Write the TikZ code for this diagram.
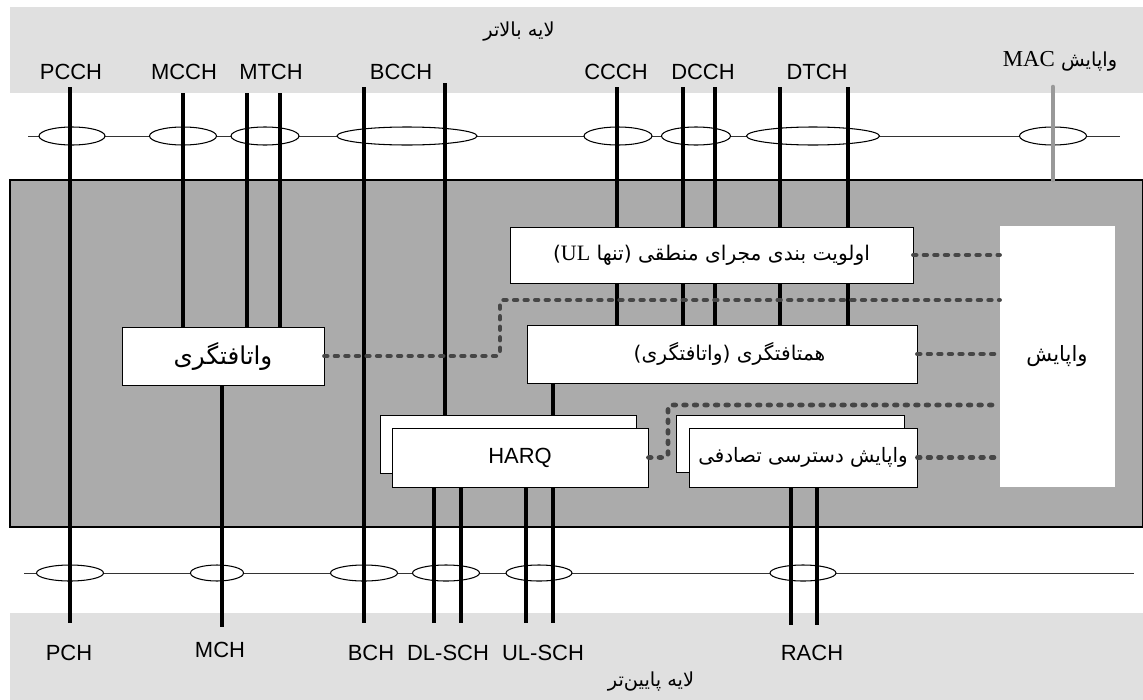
\documentclass[tikz,border=0pt]{standalone}
\usepackage{fontspec}
\setmainfont{Liberation Sans}
\newfontfamily\arabicfont[Script=Arabic]{DejaVu Sans}
\newfontfamily\latinserif{Liberation Serif}
\TeXXeTstate=1
\usetikzlibrary{shapes.geometric}
\definecolor{upperband}{HTML}{E0E0E0}
\definecolor{macband}{HTML}{ABABAB}
\definecolor{ctlgray}{HTML}{464646}
\tikzset{
  band/.style    ={fill=upperband, draw=none},
  macarea/.style ={fill=macband, draw=black, line width=0.6pt},
  bus/.style     ={draw=black!80, line width=0.5pt},
  oval/.style    ={draw, ellipse, fill=white, inner sep=0pt, line width=0.6pt, minimum height=0.36cm},
  lowoval/.style ={oval, minimum height=0.32cm},
  chan/.style    ={line width=1.8pt},
  macline/.style ={line width=2.6pt, black!40, line cap=round},
  fn/.style      ={draw, fill=white, line width=0.5pt, inner sep=0pt},
  ctl/.style     ={ctlgray, line width=2.6pt, line cap=round, dash pattern=on 1.6pt off 4.4pt, rounded corners=2pt}, % control path to the MAC control box
  chlbl/.style   ={font=\fontsize{12.5}{14}\selectfont},
  fa/.style      ={font=\arabicfont\fontsize{11}{13}\selectfont},
}

\begin{document}
\begin{tikzpicture}[x=0.02cm, y=-0.02cm]
  \useasboundingbox (0,0) rectangle (1143,700);
  % BANDS: upper layer, MAC, lower layer
  \fill[band] (10,7) rectangle (1143,93);
  \fill[band] (10,613) rectangle (1143,700);
  \draw[macarea] (10,180) rectangle (1143,527);

  \node[fa] (upper)  at (519,32)  {\beginR لایه بالاتر\endR};
  \node[fa] (lower)  at (651,682) {\beginR لایه پایین‌تر\endR};
  \node[fa] (maclbl) at (1060,61) {\beginR واپایش \beginL{\latinserif\fontsize{13}{14}\selectfont MAC}\endL\endR};

  % TOP: logical channels
  \node[chlbl] (pcch) at (71,72)  {PCCH};
  \node[chlbl] (mcch) at (184,72) {MCCH};
  \node[chlbl] (mtch) at (271,72) {MTCH};
  \node[chlbl] (bcch) at (401,72) {BCCH};
  \node[chlbl] (ccch) at (616,72) {CCCH};
  \node[chlbl] (dcch) at (703,72) {DCCH};
  \node[chlbl] (dtch) at (817,72) {DTCH};

  \coordinate (topbus-l) at (28,136);
  \coordinate (topbus-r) at (1120,136);
  \draw[bus] (topbus-l) -- (topbus-r);
  \node[oval, minimum width=1.32cm] (o-pcch) at (72,136)   {};
  \node[oval, minimum width=1.34cm] (o-mcch) at (183,136)  {};
  \node[oval, minimum width=1.36cm] (o-mtch) at (265,136)  {};
  \node[oval, minimum width=2.80cm] (o-bcch) at (407,136)  {};
  \node[oval, minimum width=1.36cm] (o-ccch) at (618,136)  {};
  \node[oval, minimum width=1.38cm] (o-dcch) at (696,136)  {};
  \node[oval, minimum width=2.66cm] (o-dtch) at (813,136)  {};
  \node[oval, minimum width=1.34cm] (o-mac)  at (1053,136) {};

  % BOTTOM: transport channels
  \node[chlbl] (pch)   at (69,653)  {PCH};
  \node[chlbl] (mch)   at (220,650) {MCH};
  \node[chlbl] (bch)   at (371,653) {BCH};
  \node[chlbl] (dlsch) at (448,653) {DL-SCH};
  \node[chlbl] (ulsch) at (543,653) {UL-SCH};
  \node[chlbl] (rach)  at (812,653) {RACH};

  \coordinate (lowbus-l) at (24,573);
  \coordinate (lowbus-r) at (1134,573);
  \draw[bus] (lowbus-l) -- (lowbus-r);
  \node[lowoval, minimum width=1.34cm] (o-pch)   at (70,573)  {};
  \node[lowoval, minimum width=1.06cm] (o-mch)   at (217,573) {};
  \node[lowoval, minimum width=1.34cm] (o-bch)   at (364,573) {};
  \node[lowoval, minimum width=1.34cm] (o-dlsch) at (446,573) {};
  \node[lowoval, minimum width=1.32cm] (o-ulsch) at (539,573) {};
  \node[lowoval, minimum width=1.32cm] (o-rach)  at (803,573) {};

  % MAC entities
  \node[fn, minimum width=4.04cm, minimum height=1.16cm] (demux) at (223,356)
    {\arabicfont\fontsize{14}{16}\selectfont\beginR واتافتگری\endR};
  \node[fn, minimum width=8.06cm, minimum height=1.12cm] (prio) at (711.5,255) {};
  \node[fn, minimum width=7.80cm, minimum height=1.16cm] (mux) at (722,354) {};
  \node[fn, minimum width=5.12cm, minimum height=1.16cm] (harq-b) at (508,444) {};
  \node[fn, minimum width=4.56cm, minimum height=1.14cm] (ra-b) at (790,443.5) {};

  % channel lines
  \coordinate (pcch-t) at (70,87);   \coordinate (pch-b) at (70,623);
  \coordinate (mcch-t) at (183,93);
  \coordinate (mtch-t1) at (247,93); \coordinate (mtch-t2) at (280,93);
  \coordinate (bcch-t1) at (364,87); \coordinate (bch-b) at (364,623);
  \coordinate (bcch-t2) at (445,83);
  \coordinate (ccch-t) at (617,87);
  \coordinate (dcch-t1) at (683,87); \coordinate (dcch-t2) at (715,87);
  \coordinate (dtch-t1) at (780,87); \coordinate (dtch-t2) at (848,87);
  \coordinate (mac-t) at (1053,87);  \coordinate (mac-b) at (1053,180);
  \draw[chan] (pcch-t) -- (pch-b);
  \draw[chan] (mcch-t) -- (mcch-t |- demux.north);
  \draw[chan] (mtch-t1) -- (mtch-t1 |- demux.north);
  \draw[chan] (mtch-t2) -- (mtch-t2 |- demux.north);
  \draw[chan] (bcch-t1) -- (bch-b);
  \draw[chan] (bcch-t2) -- (bcch-t2 |- harq-b.north);
  \draw[chan] (ccch-t) -- (ccch-t |- mux.north);
  \draw[chan] (dcch-t1) -- (dcch-t1 |- mux.north);
  \draw[chan] (dcch-t2) -- (dcch-t2 |- mux.north);
  \draw[chan] (dtch-t1) -- (dtch-t1 |- mux.north);
  \draw[chan] (dtch-t2) -- (dtch-t2 |- mux.north);
  \draw[macline] (mac-t) -- (mac-b);

  \coordinate (mch-b) at (222,627);
  \coordinate (dl-b1) at (434,623);  \coordinate (dl-b2) at (461,623);
  \coordinate (ul-b1) at (526,623);  \coordinate (ul-b2) at (553,623);
  \coordinate (rach-b1) at (791,625); \coordinate (rach-b2) at (817,625);
  \draw[chan] (demux.south -| mch-b) -- (mch-b);
  \draw[chan] (mux.south -| ul-b2) -- (ul-b2 |- harq-b.north);

  % front boxes over the lines
  \node[fn, minimum width=8.06cm, minimum height=1.12cm] (prio) at (711.5,255)
    {\arabicfont\fontsize{11.5}{13}\selectfont\beginR اولویت بندی مجرای منطقی (تنها \beginL{\latinserif\fontsize{12.5}{13}\selectfont UL}\endL)\endR};
  \node[fn, minimum width=7.80cm, minimum height=1.16cm] (mux) at (722,354)
    {\hspace*{0.3cm}\arabicfont\fontsize{11.5}{13}\selectfont\beginR همتافتگری (واتافتگری)\endR};
  \node[fn, minimum width=5.12cm, minimum height=1.18cm] (harq) at (520,457.5)
    {\fontsize{12.5}{14}\selectfont HARQ};
  \node[fn, minimum width=4.56cm, minimum height=1.18cm] (ra) at (803,457.5)
    {\arabicfont\fontsize{11.3}{14}\selectfont\beginR واپایش دسترسی تصادفی\endR};
  \node[fn, draw=white, minimum width=2.28cm, minimum height=5.2cm] (ctrl) at (1057,356)
    {\arabicfont\fontsize{12}{14}\selectfont\beginR واپایش\endR};

  \draw[chan] (harq.south -| dl-b1) -- (dl-b1);
  \draw[chan] (harq.south -| dl-b2) -- (dl-b2);
  \draw[chan] (harq.south -| ul-b1) -- (ul-b1);
  \draw[chan] (harq.south -| ul-b2) -- (ul-b2);
  \draw[chan] (ra.south -| rach-b1) -- (rach-b1);
  \draw[chan] (ra.south -| rach-b2) -- (rach-b2);

  % control paths
  \coordinate (bend-a) at (500,300);
  \coordinate (bend-b) at (668,405);
  \draw[ctl] (prio.east) -- (prio.east -| ctrl.west);
  \draw[ctl] (demux.east) -| (bend-a) -- (bend-a -| ctrl.west);
  \draw[ctl] (mux.east) -- (mux.east -| ctrl.west);
  \draw[ctl] (harq.east) -| (bend-b) -- (bend-b -| ctrl.west);
  \draw[ctl] (ra.east) -- (ra.east -| ctrl.west);
\end{tikzpicture}
\end{document}
